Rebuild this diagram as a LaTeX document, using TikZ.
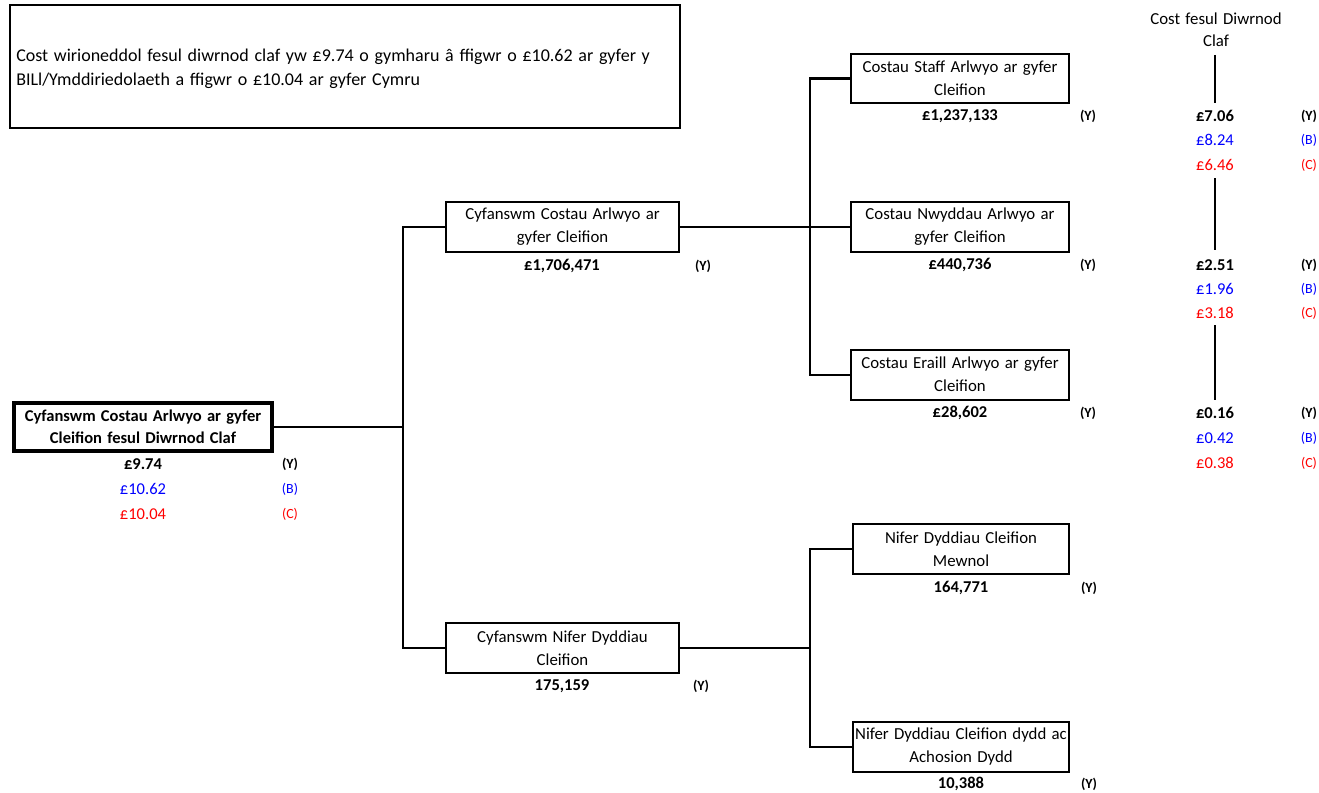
\documentclass[tikz,border=0pt]{standalone}
\usepackage{fontspec}
\setmainfont{Carlito}[WordSpace=1.4]
\definecolor{cb}{RGB}{0,0,255}
\definecolor{cr}{RGB}{255,0,0}
\begin{document}
\begin{tikzpicture}[x=0.75pt,y=-0.75pt,
  box/.style={draw=black,line width=1.5pt,inner sep=0pt,align=center,
    font=\fontsize{12.6}{17.25}\selectfont},
  val/.style={inner sep=0pt,font=\fontsize{12.4}{14}\selectfont\bfseries},
  valb/.style={inner sep=0pt,text=cb,font=\fontsize{12.4}{14}\selectfont},
  valr/.style={inner sep=0pt,text=cr,font=\fontsize{12.4}{14}\selectfont},
  tag/.style={inner sep=0pt,font=\fontsize{10.5}{12}\selectfont\bfseries},
  tagb/.style={inner sep=0pt,text=cb,font=\fontsize{10.5}{12}\selectfont},
  tagr/.style={inner sep=0pt,text=cr,font=\fontsize{10.5}{12}\selectfont},
  conn/.style={line width=1.5pt,line cap=rect}]
\useasboundingbox (0,0) rectangle (1319,792);

% top note
\node[draw=black,line width=1.5pt,inner sep=0pt,minimum width=502.5pt,
  minimum height=92.25pt] (note) at (345,66.5) {};
\node[inner sep=0pt,anchor=west,align=left,font=\fontsize{13.5}{18}\selectfont] (notetext) at (16,68.5)
  {Cost wirioneddol fesul diwrnod claf yw £9.74 o gymharu â ffigwr o £10.62 ar gyfer y\\BILl/Ymddiriedolaeth a ffigwr o £10.04 ar gyfer Cymru};

% boxes
\node[box,line width=3pt,minimum width=193.5pt,minimum height=36pt,font=\fontsize{12.4}{16.5}\selectfont\bfseries] (root) at (143,427)
  {Cyfanswm Costau Arlwyo ar gyfer\\Cleifion fesul Diwrnod Claf};
\node[box,minimum width=174.75pt,minimum height=37.5pt] (A) at (562.5,227)
  {Cyfanswm Costau Arlwyo ar\\gyfer Cleifion};
\node[box,minimum width=174.75pt,minimum height=37.5pt] (B) at (562.5,648)
  {Cyfanswm Nifer Dyddiau\\Cleifion};
\node[box,minimum width=163.5pt,minimum height=36.75pt] (S) at (960,78.5)
  {Costau Staff Arlwyo ar gyfer\\Cleifion};
\node[box,minimum width=163.5pt,minimum height=37.5pt] (N) at (960,227)
  {Costau Nwyddau Arlwyo ar\\gyfer Cleifion};
\node[box,minimum width=163.5pt,minimum height=37.5pt] (E) at (960,374.5)
  {Costau Eraill Arlwyo ar gyfer\\Cleifion};
\node[box,minimum width=162pt,minimum height=37.5pt] (M) at (961,549)
  {Nifer Dyddiau Cleifion\\Mewnol};
\node[box,minimum width=162pt,minimum height=37.5pt] (D) at (961,746.5)
  {Nifer Dyddiau Cleifion dydd ac\\Achosion Dydd};

% junctions
\coordinate (j1) at (403,427);
\coordinate (j2) at (810,227);
\coordinate (j3) at (810,648);

% connectors
\draw[conn] (root.east) -- (j1);
\draw[conn] (A.west) -| (j1) |- (B.west);
\draw[conn] (A.east) -- (j2);
\draw[conn] (S.west) -| (j2) |- (E.west);
\draw[conn] (j2) -- (N.west);
\draw[conn] (B.east) -- (j3);
\draw[conn] (M.west) -| (j3) |- (D.west);

% values
\node[val] (v0) at (143,464) {£9.74};
\node[tag] (t0) at (290,464) {(Y)};
\node[valb] (v0b) at (143,489) {£10.62};
\node[tagb] (t0b) at (290,489) {(B)};
\node[valr] (v0c) at (143,514) {£10.04};
\node[tagr] (t0c) at (290,514) {(C)};

\node[val] (vA) at (562,266) {£1,706,471};
\node[tag] (tA) at (703,266) {(Y)};
\node[val] (vB) at (562,686) {175,159};
\node[tag] (tB) at (701,686) {(Y)};
\node[val] (vS) at (960,116) {£1,237,133};
\node[tag] (tS) at (1088,116) {(Y)};
\node[val] (vN) at (960,265) {£440,736};
\node[tag] (tN) at (1088,265) {(Y)};
\node[val] (vE) at (960,413) {£28,602};
\node[tag] (tE) at (1088,413) {(Y)};
\node[val] (vM) at (961,588) {164,771};
\node[tag] (tM) at (1089,588) {(Y)};
\node[val] (vD) at (961,784) {10,388};
\node[tag] (tD) at (1089,784) {(Y)};

% right column
\node[inner sep=0pt,align=center,font=\fontsize{12.6}{16.5}\selectfont] (hdr) at (1216,30)
  {Cost fesul Diwrnod\\Claf};
\node[val] (r1) at (1215,116) {£7.06};
\node[tag] (r1t) at (1309,116) {(Y)};
\node[valb] (r1b) at (1215,140) {£8.24};
\node[tagb] (r1bt) at (1309,140) {(B)};
\node[valr] (r1c) at (1215,165) {£6.46};
\node[tagr] (r1ct) at (1309,165) {(C)};

\node[val] (r2) at (1215,265) {£2.51};
\node[tag] (r2t) at (1309,265) {(Y)};
\node[valb] (r2b) at (1215,289) {£1.96};
\node[tagb] (r2bt) at (1309,289) {(B)};
\node[valr] (r2c) at (1215,313) {£3.18};
\node[tagr] (r2ct) at (1309,313) {(C)};

\node[val] (r3) at (1215,413) {£0.16};
\node[tag] (r3t) at (1309,413) {(Y)};
\node[valb] (r3b) at (1215,438) {£0.42};
\node[tagb] (r3bt) at (1309,438) {(B)};
\node[valr] (r3c) at (1215,463) {£0.38};
\node[tagr] (r3ct) at (1309,463) {(C)};

\coordinate (l1a) at (1215,55);  \coordinate (l1b) at (1215,103);
\coordinate (l2a) at (1215,178); \coordinate (l2b) at (1215,250);
\coordinate (l3a) at (1215,325); \coordinate (l3b) at (1215,400);
\draw[line width=1.5pt] (l1a) -- (l1b);
\draw[line width=1.5pt] (l2a) -- (l2b);
\draw[line width=1.5pt] (l3a) -- (l3b);
\end{tikzpicture}
\end{document}
